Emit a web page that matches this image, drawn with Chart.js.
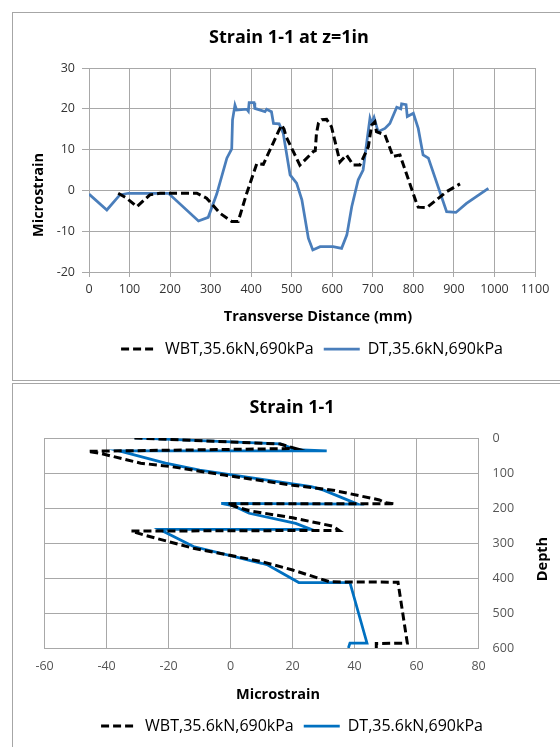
<!DOCTYPE html>
<html>
<head>
<meta charset="utf-8">
<script src="https://cdn.jsdelivr.net/npm/chart.js@4.4.1/dist/chart.umd.min.js"></script>
<style>
  html, body { margin: 0; padding: 0; background: #fff; width: 560px; height: 747px; overflow: hidden; position: relative; }
  .frame { position: absolute; border: 1px solid #a6a6a6; box-sizing: border-box; }
  canvas { position: absolute; }
</style>
</head>
<body>
<div class="frame" style="left:12px;top:12px;width:600px;height:369px;"></div>
<div class="frame" style="left:12px;top:383px;width:600px;height:400px;"></div>
<canvas id="topChart" width="554" height="366" style="left:12px;top:12px;"></canvas>
<canvas id="bottomChart" width="548" height="364" style="left:12px;top:383px;"></canvas>
<script>
const seriesNames = ['WBT,35.6kN,690kPa', 'DT,35.6kN,690kPa'];

// Strain 1-1 at z=1in : transverse distance (mm) vs microstrain
const wbtDistance = [72, 93, 118, 150, 175, 266, 290, 323, 352, 368, 389, 414, 430, 450, 467, 475, 481, 486, 504, 520, 553, 558, 561, 566, 574, 586, 598, 619, 635, 652, 668, 689, 697, 705, 709, 730, 750, 767, 808, 812, 833, 857, 882, 915];
const wbtStrain = [-0.7, -1.9, -4, -1.1, -0.7, -0.7, -1.9, -5.6, -7.6, -7.6, -0.7, 6.6, 6.4, 10.7, 14.4, 16, 15, 13.2, 9.5, 6.2, 9.5, 9.7, 14, 16.5, 17.3, 17.4, 15.6, 7, 8.7, 6.2, 6.2, 10.7, 16, 16.8, 14.4, 13.6, 8.3, 8.7, -3.2, -4.1, -4.2, -2.3, -0.3, 1.6];

const dtDistance = [0, 44, 76, 97, 196, 270, 294, 315, 340, 352, 354, 360, 364, 389, 393, 395, 407, 409, 434, 438, 450, 455, 469, 479, 496, 512, 525, 541, 552, 570, 602, 623, 636, 648, 664, 676, 693, 697, 703, 713, 730, 742, 759, 769, 771, 782, 785, 800, 812, 824, 837, 882, 905, 931, 985];
const dtStrain = [-0.9, -4.8, -1.1, -0.7, -0.7, -7.5, -6.6, -0.9, 7.9, 10.2, 17.3, 20.9, 19.7, 19.9, 19.4, 21.5, 21.5, 20.1, 19.3, 19.9, 19.3, 16.4, 16.3, 14, 3.8, 1.8, -2.3, -11.7, -14.6, -13.8, -13.8, -14.2, -10.9, -4, 2.6, 5, 17.7, 16.5, 17.9, 14.4, 15.2, 16.4, 20.4, 20, 21.2, 21, 18.1, 18.9, 15.2, 8.7, 7.9, -5.2, -5.4, -3.2, 0.5];

// Strain 1-1 : microstrain vs depth
const wbtProfileStrain = [-31, 16, 21, -46, -42, -29, -19, -2, 20, 33, 48, 50, 53, -1, 2, 6, 20, 33, 35, -32, -28, -12, 10, 20, 32, 54, 57, 47, 47];
const wbtProfileDepth = [0, 17, 30, 38, 44, 72, 82, 106, 135, 149, 177, 185, 188, 188, 197, 208, 228, 252, 264, 266, 277, 315, 353, 377, 411, 412, 586, 587, 600];

const dtProfileStrain = [-31, 16, 21, 31, -36, -21, -10, 26, 30, 41, -3, 1, 6, 21, 26, -23, -12, 10, 12, 22, 38.5, 44, 38.5, 38];
const dtProfileDepth = [0, 17, 33, 37, 37, 72, 92, 139, 149, 189, 187, 194, 215, 244, 261, 261, 310, 358, 363, 413, 413, 586, 586, 600];

const fontFamily = '"Open Sans", Lato, sans-serif';
const gridColor = '#a8a8a8';

function toPoints(xs, ys) {
    return xs.map((x, i) => ({ x: x, y: ys[i] }));
}

// axis titles drawn where the original has them (not centred on the plot)
function makeAxisTitles(items) {
    return {
        id: 'axisTitles',
        afterDraw(chart) {
            const ctx = chart.ctx;
            items.forEach(item => {
                ctx.save();
                ctx.translate(item.x, item.y);
                if (item.rotate) ctx.rotate(item.rotate);
                ctx.font = 'bold 14.5px ' + fontFamily;
                ctx.fillStyle = '#000';
                ctx.textAlign = 'center';
                ctx.textBaseline = 'middle';
                ctx.fillText(item.text, 0, 0);
                ctx.restore();
            });
        }
    };
}

const legendLabels = {
    usePointStyle: true,
    pointStyle: 'line',
    pointStyleWidth: 36,
    color: '#000',
    font: { family: fontFamily, size: 16 },
    padding: 10,
    // point style items lose the dataset dash, so put it back
    generateLabels: chart => Chart.defaults.plugins.legend.labels.generateLabels(chart).map((item, i) => {
        const ds = chart.data.datasets[i];
        item.lineDash = ds.borderDash || [];
        item.lineWidth = ds.borderWidth;
        item.strokeStyle = ds.borderColor;
        return item;
    })
};

const spacer = (w) => ({
    type: 'linear',
    axis: 'y',
    display: true,
    ticks: { display: false },
    grid: { display: false, drawTicks: false },
    border: { display: false },
    afterFit: s => { s.width = w; }
});

new Chart(document.getElementById('topChart'), {
    type: 'scatter',
    data: {
        datasets: [
            {
                label: seriesNames[0],
                data: toPoints(wbtDistance, wbtStrain),
                showLine: true,
                borderColor: '#000',
                backgroundColor: '#000',
                borderWidth: 3,
                borderDash: [8, 4],
                pointRadius: 0,
                pointStyle: 'line',
                tension: 0
            },
            {
                label: seriesNames[1],
                data: toPoints(dtDistance, dtStrain),
                showLine: true,
                borderColor: '#4a7ebb',
                backgroundColor: '#4a7ebb',
                borderWidth: 2.75,
                pointRadius: 0,
                pointStyle: 'line',
                tension: 0
            }
        ]
    },
    options: {
        responsive: false,
        animation: false,
        layout: { padding: { left: 0, right: 0, top: 0, bottom: 11 } },
        scales: {
            x: {
                type: 'linear',
                position: 'bottom',
                min: 0,
                max: 1100,
                ticks: { stepSize: 100, color: '#333', font: { family: fontFamily, size: 12.5 }, padding: 5, callback: v => String(v) },
                grid: { color: gridColor, tickLength: 5 },
                border: { color: gridColor },
                afterFit: s => { s.height = 59; }
            },
            y: {
                type: 'linear',
                position: 'left',
                min: -20,
                max: 30,
                ticks: { stepSize: 10, color: '#333', font: { family: fontFamily, size: 12.5 }, padding: 7, callback: v => String(v) },
                grid: { color: gridColor, tickLength: 7 },
                border: { color: gridColor },
                afterFit: s => { s.width = 77; }
            },
            rightPad: Object.assign(spacer(31), { position: 'right' })
        },
        plugins: {
            title: {
                display: true,
                text: 'Strain 1-1 at z=1in',
                color: '#000',
                font: { family: fontFamily, size: 18, weight: 'bold' },
                padding: { top: 15, bottom: 19.4 }
            },
            legend: { position: 'bottom', fullSize: false, labels: legendLabels },
            tooltip: { enabled: false }
        }
    },
    plugins: [makeAxisTitles([
        { text: 'Microstrain', x: 27, y: 183, rotate: -Math.PI / 2 },
        { text: 'Transverse Distance (mm)', x: 306, y: 305 }
    ])]
});

new Chart(document.getElementById('bottomChart'), {
    type: 'scatter',
    data: {
        datasets: [
            {
                label: seriesNames[0],
                data: toPoints(wbtProfileStrain, wbtProfileDepth),
                showLine: true,
                borderColor: '#000',
                backgroundColor: '#000',
                borderWidth: 3,
                borderDash: [8, 4],
                pointRadius: 0,
                pointStyle: 'line',
                tension: 0
            },
            {
                label: seriesNames[1],
                data: toPoints(dtProfileStrain, dtProfileDepth),
                showLine: true,
                borderColor: '#0070c0',
                backgroundColor: '#0070c0',
                borderWidth: 2.75,
                pointRadius: 0,
                pointStyle: 'line',
                tension: 0
            }
        ]
    },
    options: {
        responsive: false,
        animation: false,
        layout: { padding: { left: 12, right: 0, top: 0, bottom: 3 } },
        scales: {
            x: {
                type: 'linear',
                position: 'bottom',
                min: -60,
                max: 80,
                ticks: { stepSize: 20, color: '#555', font: { family: fontFamily, size: 12.5 }, padding: 11, callback: v => String(v) },
                grid: { color: gridColor, drawTicks: false },
                border: { color: gridColor },
                afterFit: s => { s.height = 60; }
            },
            y: {
                type: 'linear',
                position: 'right',
                reverse: true,
                min: 0,
                max: 600,
                ticks: { stepSize: 100, color: '#555', font: { family: fontFamily, size: 12.5 }, padding: 14, callback: v => String(v) },
                grid: { color: gridColor, drawTicks: false },
                border: { color: gridColor },
                afterFit: s => { s.width = 81.4; }
            },
            leftPad: Object.assign(spacer(20.6), { position: 'left' })
        },
        plugins: {
            title: {
                display: true,
                text: 'Strain 1-1',
                color: '#000',
                font: { family: fontFamily, size: 18, weight: 'bold' },
                padding: { top: 14, bottom: 19.4 }
            },
            legend: { position: 'bottom', fullSize: true, labels: legendLabels },
            tooltip: { enabled: false }
        }
    },
    plugins: [makeAxisTitles([
        { text: 'Microstrain', x: 266, y: 312 },
        { text: 'Depth', x: 531, y: 176, rotate: -Math.PI / 2 }
    ])]
});
</script>
</body>
</html>
